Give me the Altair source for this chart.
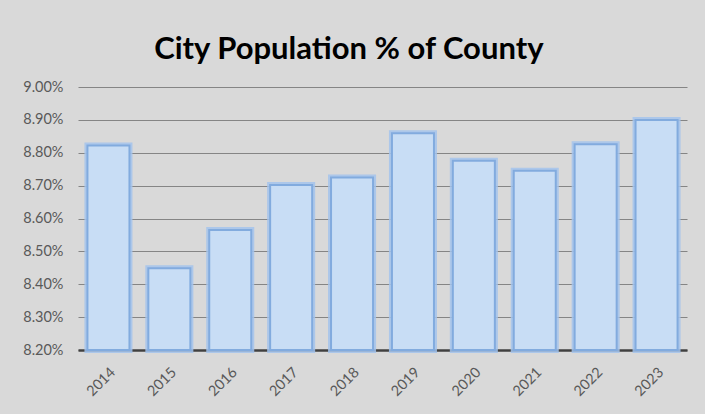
import altair as alt
import pandas as pd

years = ["2014", "2015", "2016", "2017", "2018", "2019", "2020", "2021", "2022", "2023"]
shares = [0.08822, 0.08449, 0.08565, 0.08702, 0.08725, 0.08859, 0.08776, 0.08745, 0.08826, 0.08900]
y_ticks = [0.082, 0.083, 0.084, 0.085, 0.086, 0.087, 0.088, 0.089, 0.090]
baseline = 0.082

df = pd.DataFrame({"year": years, "share": shares})
df["base"] = baseline

x = alt.X("year:N", title=None, sort=years,
          scale=alt.Scale(paddingInner=0.31, paddingOuter=0.155),
          axis=alt.Axis(labelAngle=-45, labelFont="Lato", labelFontSize=14.5,
                        labelColor="#595959", labelPadding=15, ticks=False,
                        domainColor="#404040", domainWidth=2.5, grid=False))
y = alt.Y("share:Q", title=None,
          scale=alt.Scale(domain=[0.082, 0.090], zero=False, nice=False),
          axis=alt.Axis(values=y_ticks, format=".2%", labelFont="Lato", labelFontSize=14.5,
                        labelColor="#595959", labelPadding=15, ticks=False, domain=False,
                        grid=True, gridColor="#858585", gridWidth=1))

base = alt.Chart(df).encode(x=x, y=y, y2="base:Q")

glow = base.mark_bar(fill="#c6dcf4", stroke="#a3c3ec", strokeWidth=6, strokeOpacity=0.85)
edge = base.mark_bar(fill="#c8ddf5", stroke="#82abde", strokeWidth=2)

chart = (glow + edge).properties(
    width=609, height=263,
    title=alt.TitleParams("City Population % of County", font="Lato", fontSize=31,
                          fontWeight="bold", color="#000000", anchor="middle",
                          frame="bounds", offset=13, dx=-6),
    background="#d9d9d9",
    padding={"left": 78, "top": 87, "right": 18, "bottom": 64},
    autosize=alt.AutoSizeParams(type="none"),
).configure_view(stroke=None)

chart.save("out.html", embed_options={"renderer": "svg", "actions": False})
